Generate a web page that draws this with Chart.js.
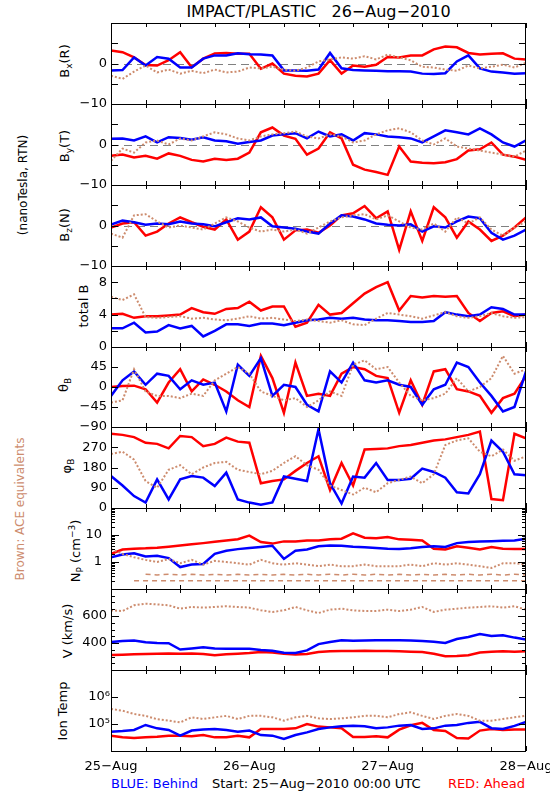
<!DOCTYPE html>
<html><head><meta charset="utf-8">
<script src="https://cdn.jsdelivr.net/npm/chart.js@4.4.1/dist/chart.umd.min.js"></script>
<style>
html,body{margin:0;padding:0;background:#fff;}
body{width:550px;height:800px;position:relative;overflow:hidden;font-family:"DejaVu Sans",sans-serif;}
canvas{position:absolute;left:0;}
.t{position:absolute;white-space:nowrap;line-height:1;font-size:13px;color:#000;}
.rot{position:absolute;white-space:nowrap;line-height:1;font-size:13px;color:#000;transform:translate(-50%,-50%) rotate(-90deg);}
.rot sub,.rot sup{font-size:9px;vertical-align:baseline;position:relative;}
.rot sub{top:3px;} .rot sup{top:-5px;}
</style></head>
<body>
<div class="t" style="left:318.5px;top:4px;font-size:16px;transform:translateX(-50%);">IMPACT/PLASTIC&nbsp;&nbsp;&nbsp;26−Aug−2010</div>
<div class="rot" style="left:23px;top:185px;font-size:12px;">(nanoTesla, RTN)</div>
<div class="rot" style="left:20px;top:509px;font-size:12px;color:#cd8c6e;">Brown: ACE equivalents</div>
<div class="rot" style="left:64px;top:61px;">B<sub>x</sub>(R)</div>
<div class="rot" style="left:64px;top:146px;">B<sub>y</sub>(T)</div>
<div class="rot" style="left:64px;top:225px;">B<sub>z</sub>(N)</div>
<div class="rot" style="left:83px;top:306px;">total B</div>
<div class="rot" style="left:63px;top:385px;">θ<sub>B</sub></div>
<div class="rot" style="left:66px;top:466px;">φ<sub>B</sub></div>
<div class="rot" style="left:75px;top:551px;">N<sub>P</sub> (cm<sup>−3</sup>)</div>
<div class="rot" style="left:67px;top:631px;">V (km/s)</div>
<div class="rot" style="left:62px;top:711px;">Ion Temp</div>
<div class="t" style="left:111px;top:777px;color:#0000ff;">BLUE: Behind</div>
<div class="t" style="left:212px;top:777px;">Start: 25−Aug−2010 00:00 UTC</div>
<div class="t" style="right:25px;top:777px;color:#ff0000;">RED: Ahead</div>
<script>
// ---- time grid (hours since 25-Aug-2010 00:00) ----
const hours = [0,2,4,6,8,10,12,14,16,18,20,22,24,26,28,30,32,34,36,38,40,42,44,46,48,50,52,54,56,58,60,62,64,66,68,70,72];
const xDayHours = [0,24,48,72];
const xDayLabels = ['25−Aug','26−Aug','27−Aug','28−Aug'];
const xTickHours = [0,6,12,18,24,30,36,42,48,54,60,66,72];

// ---- Bx (R) nT ----
const bxBehind = [-1.7,-1.6,1.5,-0.5,1.6,1.2,-1.0,-1.0,1.2,2.0,2.0,2.5,2.3,2.2,2.0,-1.7,-1.7,-1.8,-1.5,2.6,-1.2,-1.6,-1.7,-1.8,-1.9,-1.9,-2.0,-2.5,-2.6,-2.4,0.5,2.0,-1.2,-2.0,-2.2,-2.5,-2.4];
const bxAhead  = [3.2,2.8,1.5,-0.4,-0.5,0.8,2.8,-0.9,1.2,2.5,2.6,2.4,2.4,-1.3,0.0,-2.5,-3.0,-3.2,-2.5,0.8,-2.5,-0.5,-0.8,-0.3,1.6,1.5,2.0,2.0,3.5,4.2,4.0,2.6,2.2,2.4,2.5,1.2,1.0];
const bxAce    = [-3.0,-3.8,-2.0,-0.5,-2.2,-1.5,-2.5,-1.8,-2.4,-1.5,-2.2,-2.0,-1.0,-1.2,-0.8,-1.5,-1.8,-1.0,0.5,1.0,1.5,1.2,1.8,1.0,2.2,1.5,0.8,-0.8,-1.0,-1.5,-1.8,-0.5,-1.2,-0.8,-0.3,-1.0,0.2];
// ---- By (T) nT ----
const byBehind = [1.4,1.5,1.0,2.0,0.5,1.8,1.6,1.2,1.8,1.0,0.8,0.2,0.6,1.0,2.2,2.5,2.8,1.5,3.2,2.0,2.5,1.0,2.8,2.5,2.0,1.8,1.5,0.5,2.0,3.5,3.0,2.5,4.0,2.5,0.5,-0.5,1.0];
const byAhead  = [-2.8,-2.5,-3.2,-2.8,-3.5,-2.2,-2.8,-3.8,-4.2,-3.5,-3.8,-3.5,-2.0,3.0,4.2,2.2,1.4,-2.5,-1.0,3.0,1.5,-5.0,-6.2,-6.8,-7.5,-0.5,-4.2,-4.5,-4.6,-4.4,-3.6,-1.5,-1.2,0.5,-2.5,-3.0,-3.8];
const byAce    = [-4.0,-1.0,-2.0,0.5,1.0,0.0,1.5,1.0,2.0,3.0,2.5,1.5,1.0,2.0,2.5,2.8,3.2,2.0,1.5,2.5,2.0,0.5,1.0,2.5,3.5,4.0,3.0,1.0,0.0,1.5,-0.5,-1.0,-1.5,-2.0,-2.5,-3.0,-1.5];
// ---- Bz (N) nT ----
const bzBehind = [0.2,1.2,0.8,0.2,0.5,0.3,1.0,0.5,0.3,-0.2,0.8,1.8,1.5,2.0,-0.2,-0.5,-0.8,-1.5,-2.0,0.5,2.5,2.2,1.5,0.5,0.2,0.0,0.3,-1.5,-0.2,-0.5,1.0,2.2,1.8,-1.8,-3.5,-2.5,-1.0];
const bzAhead  = [-0.5,0.5,0.8,-2.5,-1.5,0.5,2.0,0.8,-0.3,-1.0,1.5,-3.5,-1.5,4.5,2.0,-3.5,-1.2,-1.0,-1.8,0.0,2.5,3.0,4.8,1.8,3.5,-6.0,3.5,-3.8,4.5,2.0,-3.0,1.0,-1.0,-3.8,-2.5,-0.5,2.0];
const bzAce    = [-2.0,-3.0,2.5,2.8,1.0,-0.5,0.0,-0.5,-1.0,0.5,2.0,1.0,-0.5,-1.5,-1.0,-1.5,-1.0,-2.0,-0.5,1.0,2.0,2.5,2.8,1.5,2.5,1.0,-0.5,-1.0,0.5,-1.5,2.0,0.5,2.0,-1.0,-2.5,-0.5,1.0];
// ---- total B nT ----
const btBehind = [2.3,2.3,3.0,1.8,1.9,2.7,2.3,2.6,1.3,2.0,2.8,2.8,2.6,2.9,2.9,2.7,3.0,3.3,3.4,3.6,3.5,3.6,3.4,3.3,3.3,3.2,3.1,3.1,3.2,4.3,4.0,3.8,4.0,4.9,4.7,4.0,4.0];
const btAhead  = [4.0,4.1,3.6,3.8,3.8,3.9,4.0,4.8,4.3,4.1,4.7,4.8,5.6,4.5,5.0,5.0,2.5,3.0,5.2,4.0,4.2,5.4,6.6,7.4,8.0,4.5,6.3,6.1,6.3,6.2,6.3,4.2,3.2,4.2,4.4,3.8,4.0];
const btAce    = [6.2,5.8,6.5,3.7,3.6,3.7,3.8,3.5,3.6,3.4,3.3,3.5,3.8,3.5,3.6,3.4,3.2,3.4,3.2,3.0,3.3,2.8,2.7,3.5,4.2,4.0,3.8,3.5,3.9,4.3,3.8,3.6,3.8,4.2,3.8,3.6,3.7];
// ---- theta_B deg ----
const thBehind = [-20,15,35,5,30,25,-5,15,5,10,-55,50,25,65,-20,5,0,-40,-55,35,10,55,15,10,15,5,0,-40,-5,5,55,45,10,-20,-55,-45,35];
const thAhead  = [0,2,3,-5,-35,10,40,-10,17,5,-10,-30,-45,70,20,-58,55,-20,-15,-20,30,45,40,25,20,-58,15,-40,35,40,-5,-10,-20,-58,-25,-15,25];
const thAce    = [-35,-30,40,-10,-20,-20,-25,-15,-20,15,30,45,30,-10,-20,-30,-25,-45,-30,-10,-20,50,60,40,45,10,-20,-30,-25,-15,20,-10,0,20,70,30,40];
// ---- phi_B deg ----
const phBehind = [142,100,53,24,127,38,127,142,135,98,157,38,24,15,25,140,130,120,350,110,20,140,135,200,125,125,130,175,160,135,70,65,150,300,250,150,145];
const phAhead  = [330,325,315,290,285,265,320,315,275,285,313,295,290,110,120,127,165,200,230,80,200,100,260,262,265,275,280,290,300,305,315,325,340,40,35,330,310];
const phAce    = [240,250,215,120,90,170,190,150,180,200,205,170,160,150,165,200,230,190,170,100,80,60,90,70,110,125,140,110,150,280,300,310,250,230,260,210,230];
// ---- Np cm^-3 ----
const npBehind = [1.5,1.9,2.1,1.6,1.7,1.4,0.65,0.8,0.85,2.0,2.6,3.0,3.3,3.6,4.0,1.3,2.6,2.9,3.8,4.1,4.0,3.7,3.5,3.3,3.1,3.0,3.2,3.6,3.8,3.6,5.0,5.5,5.7,5.9,6.1,6.2,7.2];
const npAhead  = [2.0,2.9,3.1,3.2,3.4,3.7,4.1,4.5,5.0,5.6,6.3,7.0,9.5,5.5,4.8,5.8,5.8,6.3,6.3,6.9,7.3,11.5,7.9,7.6,8.4,6.9,6.7,6.3,3.1,2.9,3.8,3.4,2.9,3.6,3.1,3.0,3.0];
const npAce    = [3.0,2.0,1.5,1.2,1.0,1.3,0.9,1.2,0.8,1.1,1.0,0.9,0.8,1.2,0.9,0.8,0.9,0.8,0.7,0.8,0.7,0.7,0.8,0.7,0.7,0.7,0.8,0.7,0.9,0.8,0.9,0.8,0.7,0.6,0.9,0.9,0.8];
const npAceLow = [null,null,0.2,0.2,0.2,0.2,0.2,0.2,0.2,0.2,0.2,0.2,0.2,0.2,0.2,0.2,0.2,0.2,0.2,0.2,0.2,0.2,0.2,0.2,0.2,0.2,0.2,0.2,0.2,0.2,0.2,0.2,0.2,0.2,0.2,0.2,0.2];
const npAceMid = [null,null,null,0.35,0.33,0.35,0.33,0.35,0.33,0.35,0.33,0.35,0.33,0.35,0.33,0.35,0.33,0.35,0.33,0.35,0.33,0.35,0.33,0.35,0.33,0.35,0.33,0.35,0.33,0.35,0.33,0.35,0.33,0.35,0.33,0.35,0.33];
// ---- V km/s ----
const vBehind = [407,415,418,405,400,398,352,360,368,360,358,358,357,348,343,328,326,345,392,408,420,416,418,420,420,420,419,415,410,400,430,445,466,452,458,440,425];
const vAhead  = [311,313,316,318,321,323,321,323,318,310,316,321,326,333,330,320,315,318,333,338,341,341,343,341,341,338,336,333,320,302,304,310,330,336,338,336,338];
const vAce    = [642,637,679,691,686,679,654,667,662,667,672,667,662,642,630,642,667,642,622,647,654,642,637,637,647,637,647,667,630,647,654,662,667,672,662,672,647];
// ---- Ion temperature K ----
const tBehind = [5.2e4,5.5e4,6.0e4,9.2e4,6.9e4,6.0e4,3.7e4,5.7e4,6.2e4,6.5e4,6.0e4,5.2e4,5.7e4,3.9e4,3.7e4,2.8e4,3.9e4,4.9e4,6.5e4,7.5e4,8.2e4,8.7e4,8.2e4,6.9e4,7.5e4,8.7e4,9.2e4,6.5e4,6.9e4,8.7e4,9.2e4,1.1e5,1.2e5,7.0e4,6.5e4,8.5e4,1.2e5];
const tAhead  = [3.7e4,3.2e4,3.0e4,3.2e4,3.4e4,3.7e4,3.7e4,3.5e4,3.9e4,3.2e4,3.2e4,3.7e4,3.2e4,6.5e4,6.5e4,6.5e4,6.9e4,1.0e5,8.0e4,7.5e4,7.0e4,3.3e4,3.3e4,3.5e4,3.2e4,6.2e4,9.0e4,1.1e5,6.0e4,5.5e4,3.0e4,2.9e4,5.7e4,6.5e4,6.0e4,6.2e4,6.2e4];
const tAce    = [3.6e5,3.1e5,2.35e5,2.0e5,1.5e5,1.33e5,1.15e5,1.77e5,1.53e5,1.77e5,2.0e5,1.53e5,2.0e5,2.0e5,1.77e5,1.33e5,1.77e5,2.0e5,1.62e5,1.53e5,1.62e5,1.77e5,2.0e5,2.0e5,1.77e5,2.35e5,2.7e5,2.0e5,1.53e5,2.0e5,2.35e5,2.0e5,1.33e5,1.33e5,1.53e5,1.77e5,2.0e5];

// ---- axis tick values / labels ----
const bTickVals = [-10,0];      const bTickText = ['−10','0'];     const bMarks = [-5,0,5];
const btTickVals = [0,4,8];     const btTickText = ['0','4','8'];  const btMarks = [2,4,6,8];
const thTickVals = [-90,-45,0,45]; const thTickText = ['−90','−45','0','45']; const thMarks = [-45,0,45];
const phTickVals = [0,90,180,270]; const phTickText = ['0','90','180','270']; const phMarks = [90,180,270];
const npTickVals = [1,10];      const npTickText = ['1','10'];
const npMinor = [0.2,0.3,0.4,0.5,0.6,0.7,0.8,0.9,2,3,4,5,6,7,8,9,20,30,40,50,60,70,80,90];
const vTickVals = [400,600];    const vTickText = ['400','600'];
const vMinor = [250,300,350,450,500,550,650,700,750];
const tTickVals = [1e5,1e6];    const tTickText = ['10⁵','10⁶'];

// ---- styling / layout ----
const BLUE = {color:'#0000ff', width:2.5, dash:[]};
const RED  = {color:'#ff0000', width:2.5, dash:[]};
const ACE  = {color:'#cd8c6e', width:2, dash:[2,2]};
const ACEROW = {color:'#cd8c6e', width:1.5, dash:[5,4]};
const panelTops = [23,104,185,266,347,427,508,589,670,751];
Chart.defaults.font.family = '"DejaVu Sans", sans-serif';
Chart.defaults.font.size = 13;
Chart.defaults.color = '#000';

const panels = [
  {min:-10,max:10,ticks:bTickVals,text:bTickText,marks:bMarks.map(v=>[v,7]),zero:0,series:[[bxAce,ACE],[bxBehind,BLUE],[bxAhead,RED]]},
  {min:-10,max:10,ticks:bTickVals,text:bTickText,marks:bMarks.map(v=>[v,7]),zero:0,series:[[byAce,ACE],[byBehind,BLUE],[byAhead,RED]]},
  {min:-10,max:10,ticks:bTickVals,text:bTickText,marks:bMarks.map(v=>[v,7]),zero:0,series:[[bzAce,ACE],[bzBehind,BLUE],[bzAhead,RED]]},
  {min:0,max:10,ticks:btTickVals,text:btTickText,marks:btMarks.map(v=>[v,7]),series:[[btAce,ACE],[btBehind,BLUE],[btAhead,RED]]},
  {min:-90,max:90,ticks:thTickVals,text:thTickText,marks:thMarks.map(v=>[v,7]),series:[[thAce,ACE],[thBehind,BLUE],[thAhead,RED]]},
  {min:0,max:360,ticks:phTickVals,text:phTickText,marks:phMarks.map(v=>[v,7]),series:[[phAce,ACE],[phBehind,BLUE],[phAhead,RED]]},
  {log:true,min:0.1,max:100,ticks:npTickVals,text:npTickText,pad:9,marks:npTickVals.map(v=>[v,8]).concat(npMinor.map(v=>[v,4])),series:[[npAceLow,ACEROW],[npAceMid,ACEROW],[npAce,ACE],[npBehind,BLUE],[npAhead,RED]]},
  {min:200,max:800,ticks:vTickVals,text:vTickText,marks:vTickVals.map(v=>[v,8]).concat(vMinor.map(v=>[v,4])),series:[[vAce,ACE],[vBehind,BLUE],[vAhead,RED]]},
  {log:true,min:1e4,max:1e7,ticks:tTickVals,text:tTickText,pad:1,marks:tTickVals.map(v=>[v,7]),xlab:true,series:[[tAce,ACE],[tBehind,BLUE],[tAhead,RED]]}
];

function framePlugin(p){
  return {
    id:'frame',
    beforeDatasetsDraw(chart){
      if (p.zero === undefined) return;
      const {ctx, chartArea:a, scales:{y}} = chart;
      const yy = Math.round(y.getPixelForValue(p.zero)) + 0.5;
      ctx.save(); ctx.strokeStyle = '#808080'; ctx.lineWidth = 1; ctx.setLineDash([8,5]);
      ctx.beginPath(); ctx.moveTo(a.left, yy); ctx.lineTo(a.right, yy); ctx.stroke(); ctx.restore();
    },
    afterDatasetsDraw(chart){
      const {ctx, chartArea:a, scales:{x,y}} = chart;
      ctx.save(); ctx.strokeStyle = '#000'; ctx.lineWidth = 1; ctx.setLineDash([]);
      ctx.strokeRect(a.left + 0.5, a.top + 0.5, a.right - a.left - 1, a.bottom - a.top);
      ctx.beginPath();
      p.marks.forEach(([v,len]) => {
        const yy = Math.round(y.getPixelForValue(v)) + 0.5;
        ctx.moveTo(a.left, yy); ctx.lineTo(a.left + len, yy);
        ctx.moveTo(a.right, yy); ctx.lineTo(a.right - len, yy);
      });
      xTickHours.forEach(h => {
        const len = (xDayHours.indexOf(h) >= 0) ? 5 : 4;
        const xx = Math.round(x.getPixelForValue(h)) + 0.5;
        ctx.moveTo(xx, a.top); ctx.lineTo(xx, a.top + len);
        ctx.moveTo(xx, a.bottom); ctx.lineTo(xx, a.bottom - len);
      });
      ctx.stroke(); ctx.restore();
    }
  };
}

panels.forEach((p, i) => {
  const top = panelTops[i], bottom = panelTops[i+1];
  const pad = 10, extra = p.xlab ? 26 : 0;
  const cv = document.createElement('canvas');
  cv.width = 550; cv.height = bottom - top + 2*pad + extra;
  cv.style.top = (top - pad) + 'px';
  document.body.appendChild(cv);
  new Chart(cv, {
    type:'line',
    data:{datasets: p.series.map(([vals, st]) => ({
      data: hours.map((h, k) => ({x:h, y:vals[k]})),
      borderColor: st.color, backgroundColor: st.color, borderWidth: st.width, borderDash: st.dash,
      pointRadius:0, tension:0, fill:false, spanGaps:false, clip:0
    }))},
    options:{
      responsive:false, animation:false, devicePixelRatio:1, events:[],
      layout:{padding:{left:0, right:24, top:pad, bottom:pad}},
      plugins:{legend:{display:false}, tooltip:{enabled:false}},
      scales:{
        x:{type:'linear', min:0, max:72, display: !!p.xlab,
           grid:{display:false, drawTicks:false}, border:{display:false},
           ticks:{color:'#000', font:{size:13}, padding:8, maxRotation:0, minRotation:0, autoSkip:false,
             callback:(v)=>{const k = xDayHours.indexOf(v); return k < 0 ? '' : xDayLabels[k];}},
           afterBuildTicks:(s)=>{ s.ticks = xDayHours.map(v=>({value:v})); },
           afterFit:(s)=>{ s.height = extra; s.paddingLeft = 0; s.paddingRight = 0; }},
        y:{type: p.log ? 'logarithmic' : 'linear', min:p.min, max:p.max, position:'left',
           grid:{display:false, drawTicks:false}, border:{display:false},
           ticks:{color:'#000', font:{size:13}, padding: (p.pad === undefined ? 4 : p.pad), autoSkip:false,
             callback:(v)=>{const k = p.ticks.indexOf(v); return k < 0 ? '' : p.text[k];}},
           afterBuildTicks:(s)=>{ s.ticks = p.ticks.map(v=>({value:v})); },
           afterFit:(s)=>{ s.width = 111; s.paddingTop = 0; s.paddingBottom = 0; }}
      }
    },
    plugins:[framePlugin(p)]
  });
});
</script>
</body></html>
